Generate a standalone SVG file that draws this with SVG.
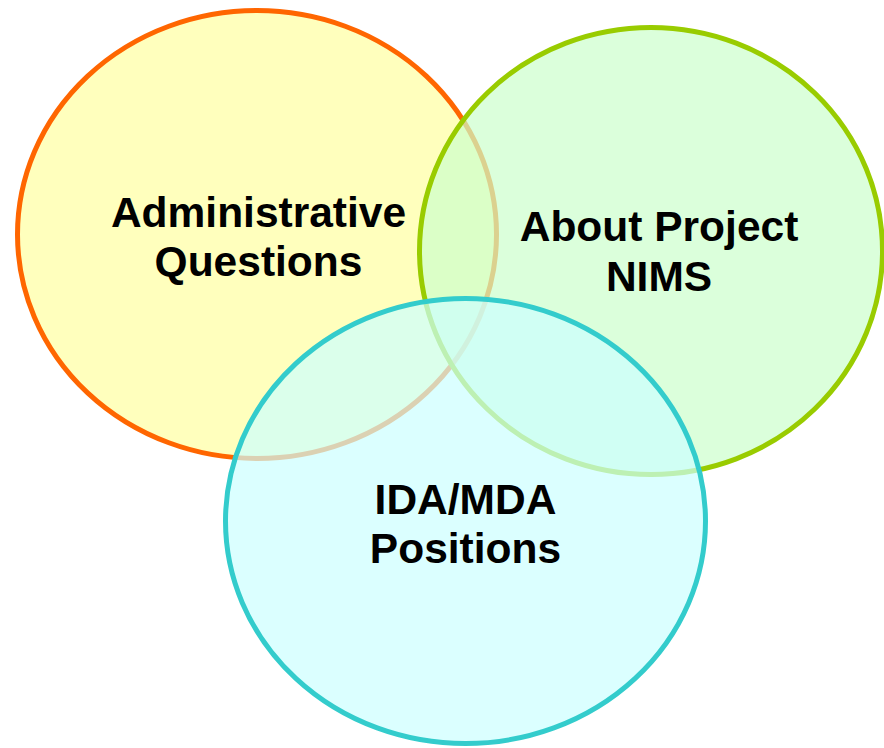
<svg xmlns="http://www.w3.org/2000/svg" width="884" height="748" viewBox="0 0 884 748">
<style>
.c{stroke-width:5}
.t{font-family:"Liberation Sans",Arial,sans-serif;font-weight:bold;font-size:42.5px;fill:#000;text-anchor:middle}
</style>
<rect width="884" height="748" fill="#fff"/>
<g id="admin">
<ellipse class="c" cx="257" cy="234.5" rx="239.5" ry="224" fill="#FFFF99" fill-opacity="0.65" stroke="#FF6600"/>
<text class="t" x="258.5" y="227">Administrative</text>
<text class="t" x="258.5" y="276">Questions</text>
</g>
<g id="about">
<ellipse class="c" cx="651" cy="251" rx="231.5" ry="223.5" fill="#CCFFCC" fill-opacity="0.7" stroke="#99CC00"/>
<text class="t" x="659" y="241">About Project</text>
<text class="t" x="659" y="291">NIMS</text>
</g>
<g id="ida">
<ellipse class="c" cx="465.5" cy="521" rx="240" ry="222.5" fill="#CCFFFF" fill-opacity="0.7" stroke="#33CCCC"/>
<text class="t" x="465.5" y="514">IDA/MDA</text>
<text class="t" x="465.5" y="563">Positions</text>
</g>
<g id="connectors"/>
</svg>
